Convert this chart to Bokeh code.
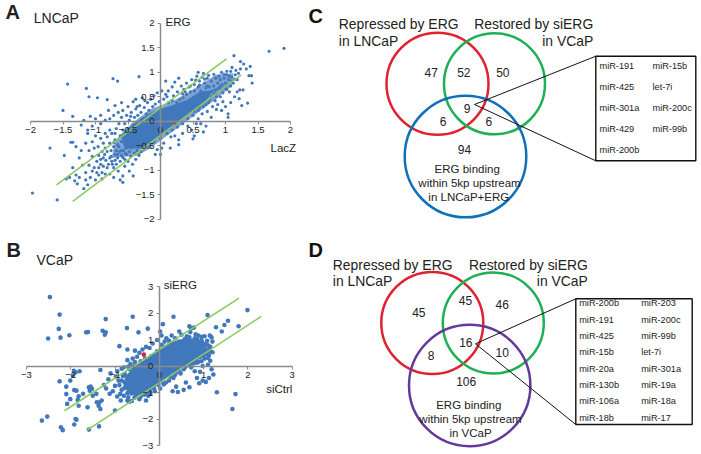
from bokeh.plotting import figure
from bokeh.layouts import row, column
from bokeh.models import LinearAxis, FixedTicker, Range1d
from bokeh.core.properties import value
from bokeh.embed import file_html
from bokeh.resources import INLINE

FONT = "Liberation Sans"
DOT = "#4178bc"
GREEN = "#8cc963"
TXT = "#222222"

# ---------- data ----------
a_ticks = [-2, -1.5, -1, -0.5, 0, 0.5, 1, 1.5, 2]
b_ticks = [-3, -2, -1, 0, 1, 2, 3]

a_lines_x = [[-1.60, 1.015], [-1.35, 1.24]]
a_lines_y = [[-1.30, 1.276], [-1.64, 0.948]]
b_lines_x = [[-2.14, 1.80], [-1.64, 2.30]]
b_lines_y = [[-1.69, 2.56], [-2.43, 1.87]]

a_core_x = [-0.55, -0.60, -0.35, -0.10, 0.15, 0.40, 0.62, 0.80, 0.66, 0.42, 0.28, 0.10, -0.10, -0.30]
a_core_y = [-0.55, -0.28, 0.00, 0.20, 0.30, 0.42, 0.60, 0.62, 0.35, 0.13, -0.02, -0.20, -0.38, -0.55]
a_band_x = [-0.75, -0.70, -0.45, -0.15, 0.20, 0.50, 0.85, 1.12, 1.10, 0.85, 0.60, 0.35, 0.10, -0.15, -0.35]
a_band_y = [-0.75, -0.40, -0.05, 0.25, 0.42, 0.65, 0.95, 0.98, 0.72, 0.45, 0.20, -0.05, -0.30, -0.55, -0.70]

b_core_x = [-0.76, -0.48, -0.12, 0.22, 0.58, 1.00, 1.10, 0.72, 0.42, 0.07, -0.28, -0.65, -0.80]
b_core_y = [-0.38, 0.05, 0.40, 0.78, 1.05, 0.95, 0.42, 0.12, -0.12, -0.55, -1.05, -1.10, -0.75]

a_points = [
 (-1.97,-1.47),(-1.59,-1.61),(-1.70,-0.55),(-1.50,0.22),(-1.35,0.10),(-1.43,0.76),(-1.14,0.67),(-1.10,0.50),(-0.97,0.48),(-0.82,0.44),
 (-0.73,0.87),(-0.66,0.82),(-0.33,0.91),(-1.48,-0.70),(-1.38,-0.43),(-1.35,-0.43),(1.67,1.43),(1.90,1.49),(1.13,1.34),(1.23,1.22),
 (1.28,1.17),(1.38,1.12),(1.32,1.07),(1.23,1.07),(1.36,0.93),(1.40,0.93),(1.41,0.78),(1.22,0.64),(1.27,0.64),(1.21,0.46),
 (1.25,0.32),(1.34,0.37),(1.04,0.15),(1.04,0.08),(-1.30,-0.52),(-1.25,-0.75),(-1.30,-1.10),(-1.40,-1.15),(-1.45,-1.18),(-1.32,-1.22),
 (-1.28,-1.28),(-1.25,-1.15),(-1.18,-1.38),(-1.15,-1.20),(-1.12,-1.30),(-1.15,-1.05),(-1.10,-0.90),(-1.20,-0.90),(-1.05,-1.02),(-1.00,-1.20),
 (-1.02,-0.95),(-0.98,-1.05),(-0.95,-1.10),(-0.92,-0.88),(-0.90,-1.05),(-0.88,-0.75),(-0.85,-1.08),(-0.82,-0.95),(-0.80,-0.88),(-0.78,-1.08),
 (-0.76,-0.72),(-0.75,-0.82),(-0.72,-0.95),(-0.70,-0.68),(-0.68,-0.88),(-0.66,-0.75),(-0.65,-1.02),(-0.63,-0.62),(-0.62,-0.82),(-0.60,-0.70),
 (-0.58,-1.12),(-0.57,-0.60),(-0.55,-0.78),(-0.55,-0.92),(-0.53,-0.55),(-0.52,-0.68),(-0.50,-0.82),(-0.48,-0.62),(-0.46,-0.72),(-0.45,-0.55),
 (-0.43,-0.88),(-0.40,-0.65),(-0.38,-0.78),(-0.36,-0.60),(-0.33,-0.70),(-0.30,-0.62),(-0.62,-1.20),(-0.58,-1.25),(-0.90,-0.62),(-0.95,-0.70),
 (-0.98,-0.82),(-1.05,-0.72),(-1.10,-0.60),(-1.15,-0.45),(-1.05,-0.42),(-1.00,-0.30),(-0.88,-0.45),(-0.85,-0.55),(-0.82,-0.32),(-0.78,-0.45),
 (-0.75,-0.25),(-0.72,-0.52),(-0.70,-0.38),(-0.68,-0.15),(-0.66,-0.48),(-0.62,-0.30),(-0.60,-0.42),(-0.58,-0.18),(-0.55,-0.05),(-0.52,0.12),
 (-0.50,-0.15),(-0.48,0.02),(-0.45,0.18),(-0.42,-0.08),(-0.40,0.08),(-0.38,0.25),(-0.35,0.12),(-0.32,0.32),(-0.30,0.18),(-0.28,0.05),
 (-0.25,0.28),(-0.22,0.15),(-0.20,0.38),(-0.18,0.22),(-0.15,0.45),(-0.12,0.30),(-0.10,0.52),(-0.08,0.35),(-0.05,0.58),(-0.02,0.40),
 (0.02,0.62),(0.05,0.45),(-0.42,0.40),(-0.50,0.30),(-0.58,0.22),(-0.65,0.18),(-0.72,0.12),(-0.78,0.05),(-0.85,0.02),(-0.92,-0.05),
 (-1.00,0.05),(-1.08,0.10),(-1.12,-0.18),(-1.05,-0.10),(-0.92,0.12),(-0.80,0.22),(-0.70,0.32),(-0.60,0.38),(-0.38,0.45),(-0.28,0.48),
 (-1.18,0.02),(-1.22,-0.08),(-1.12,-0.25),(0.08,0.55),(0.12,0.62),(0.18,0.70),(0.08,0.82),(0.22,0.80),(0.28,0.88),(0.20,0.52),
 (0.26,0.60),(0.32,0.72),(0.36,0.65),(0.40,0.78),(0.44,0.70),(0.48,0.85),(0.52,0.75),(0.56,0.92),(0.60,0.82),(0.58,1.00),
 (0.64,0.90),(0.68,0.78),(0.66,0.98),(0.72,0.88),(0.75,0.70),(0.78,0.82),(0.70,0.68),(0.82,0.72),(0.85,0.88),(0.88,0.78),
 (0.80,0.62),(0.90,0.68),(0.92,0.85),(0.95,0.75),(0.86,0.58),(0.98,0.88),(1.00,0.78),(1.02,0.95),(1.05,0.85),(1.08,1.02),
 (1.10,0.90),(1.12,0.78),(1.15,0.95),(1.08,0.72),(1.02,0.65),(1.18,0.85),(0.96,0.58),(0.92,0.50),(0.84,0.42),(0.78,0.50),
 (0.74,0.38),(0.68,0.45),(0.66,0.30),(0.62,0.40),(0.58,0.22),(0.54,0.32),(0.50,0.12),(0.46,0.22),(0.42,0.05),(0.38,0.12),
 (0.34,-0.05),(0.30,0.05),(0.26,-0.12),(0.22,-0.04),(0.18,-0.18),(0.14,-0.08),(0.10,-0.25),(0.05,-0.18),(0.00,-0.35),(-0.05,-0.28),
 (-0.10,-0.42),(-0.15,-0.36),(-0.18,-0.52),(-0.22,-0.45),(0.02,-0.55),(0.00,-0.68),(0.05,-0.45),(0.16,-0.32),(0.22,-0.30),(0.28,-0.48),
 (0.28,-0.38),(0.34,-0.25),(0.42,-0.10),(0.48,-0.18),(0.55,-0.05),(0.52,-0.30),(0.58,0.05),(0.62,-0.05),(0.50,-0.36),(0.64,0.15),
 (0.72,0.20),(0.78,0.08),(0.70,-0.10),(0.86,0.24),(0.94,0.22),(1.00,0.30),(1.08,0.38),(1.14,0.50),(1.18,0.60),(0.66,-0.22),
 (0.40,0.55),(0.46,0.60),(0.52,0.62),(0.58,0.70),(0.62,0.62),(0.70,0.58),(0.76,0.60),(0.35,0.48),(0.30,0.44),(0.25,0.38),
 (0.18,0.42),(0.12,0.38),(0.88,0.66),(1.00,0.70),(0.94,0.66),(0.82,0.56),(1.06,0.60),(0.96,0.40),(0.88,0.34),(0.80,0.30),
 (-1.22,-0.60),(-1.35,-0.95),(-1.08,-1.15),(-0.90,-1.18),(-0.72,-1.15),(-0.48,-1.02),(-0.42,-1.12),(0.15,-0.55),(-0.08,-0.68),(-0.05,-0.58),
 (-0.95,-0.95),(-0.88,-0.92),(-0.84,-0.80),(-0.78,-0.75),(-0.74,-0.88),(-0.70,-0.80),(-0.66,-0.68),(-0.60,-0.60),(-0.58,-0.74),(-0.54,-0.66),
 (-0.92,-0.78),(-0.86,-0.68),(-0.82,-0.62),(-0.76,-0.60),(-0.72,-0.44),(-0.68,-0.60),(-0.64,-0.52),(-0.70,-0.25),(-0.78,-0.18),(-0.85,-0.25),
 (-0.92,-0.35),(-0.96,-0.52),(-1.02,-0.55),(-0.64,-0.05),(-0.60,0.08),(-0.54,-0.22),(-0.46,0.10),(-0.36,0.30),(-0.24,0.42),(0.10,0.50),
 (0.55,0.48),(0.66,0.52),(0.72,0.72),(0.84,0.64),(0.92,0.72),(0.98,0.68),(1.04,0.74),(1.10,0.82),(1.14,0.86),(0.90,0.92),
 (0.82,0.96),(0.74,0.94),(0.68,0.86),(0.60,0.74),(0.54,0.84),(0.46,0.72),(0.38,0.60),(0.34,0.56),(1.20,0.98),(1.16,1.04),
 (1.06,0.92),(0.98,0.96),(0.94,1.00),(1.02,1.02),(1.10,1.10),(0.86,0.50),(0.76,0.44),(0.70,0.34),(0.60,0.28),(0.52,0.20),
]

b_points = [
 (-2.47,2.60),(-2.25,1.94),(-2.27,1.40),(-2.51,1.04),(-2.23,1.07),(-2.03,1.16),(-1.65,1.27),(-1.61,1.28),(-1.21,1.77),(-1.28,1.33),
 (-1.21,1.27),(-1.23,1.18),(-0.60,1.86),(-0.73,1.43),(-0.26,1.41),(-0.47,1.27),(0.08,1.58),(0.32,1.86),(1.09,1.92),(1.99,2.11),
 (1.55,1.71),(1.47,1.55),(1.79,1.50),(1.28,1.46),(1.41,1.30),(1.65,-1.62),(1.72,-1.06),(1.30,-0.99),(-2.65,-2.06),(-2.53,-1.91),
 (-2.22,-2.31),(-2.18,-2.42),(-1.92,-2.21),(-1.89,-2.00),(-1.87,-2.03),(-1.59,-2.40),(-1.36,-2.28),(-2.25,-0.58),(-2.01,-0.55),(-2.10,-0.78),
 (-1.93,-0.18),(-1.89,-0.24),(-1.80,-0.20),(-1.95,-0.36),(-1.92,-0.91),(-1.87,-0.93),(-2.10,-1.06),(-2.01,-1.25),(-2.08,-1.43),(-1.82,-1.14),
 (-1.84,-1.28),(-1.82,-1.50),(-1.59,-0.80),(-1.55,-0.78),(-1.52,-0.86),(-1.57,-0.93),(-1.62,-1.56),(-1.41,-1.37),(-1.37,-1.50),(-1.33,-1.62),
 (-1.35,-1.37),(-1.72,-1.05),(-1.30,-1.30),(-1.25,-0.72),(-1.10,-0.28),(-1.33,-0.15),(-1.00,-0.75),(-1.05,-0.95),(-1.12,-1.05),(-0.95,-1.15),
 (-1.00,-1.68),(-0.87,-1.30),(-0.72,-1.30),(-0.68,-1.35),(-0.62,-1.32),(-0.85,-0.90),(-0.92,-0.55),(-0.98,-0.40),(-0.95,-0.20),(-1.15,-0.50),
 (-0.85,-0.10),(-0.80,-0.05),(-0.70,-0.02),(-0.60,-0.05),(-0.65,0.08),(-0.55,0.15),(-0.60,0.28),(-0.72,0.22),(-0.50,0.35),(-0.45,0.50),
 (-0.38,0.62),(-0.30,0.72),(-0.22,0.68),(-0.15,0.85),(-0.05,0.98),(0.05,1.15),(0.02,1.30),(0.05,0.80),(0.12,0.92),(0.16,1.05),
 (0.22,0.95),(0.28,1.15),(0.36,1.05),(0.45,1.30),(0.50,1.18),(0.58,1.02),(0.62,1.12),(0.68,1.50),(0.72,1.42),(0.78,1.45),
 (0.70,1.28),(0.82,1.20),(0.88,1.15),(0.95,1.10),(1.02,1.12),(1.08,0.95),(1.14,1.15),(1.18,1.08),(1.20,0.92),(1.15,0.72),
 (1.20,0.52),(1.12,0.40),(1.15,0.20),(1.10,0.05),(1.18,-0.12),(1.22,-0.32),(1.12,-0.45),(1.05,-0.60),(0.98,-0.55),(0.90,-0.65),
 (0.85,-0.45),(0.92,-0.22),(0.98,0.00),(0.80,-0.20),(0.72,-0.05),(0.62,0.02),(0.55,-0.12),(0.48,-0.28),(0.38,-0.25),(0.32,-0.45),
 (0.25,-0.40),(0.15,-0.62),(0.05,-0.58),(0.02,-0.85),(-0.02,-0.72),(-0.12,-0.85),(-0.20,-1.02),(-0.25,-1.12),(0.30,-0.95),(0.38,-0.78),
 (0.42,-0.98),(0.60,-0.62),(0.55,-0.90),(0.68,-0.80),(1.02,0.28),(0.78,0.10),(0.88,0.15),(-0.30,-1.30),(-0.42,-1.15),(-0.52,-1.08),
 (-0.60,-1.02),(-0.72,-1.02),(-0.80,-0.85),(-0.78,-0.62),(-0.82,-0.38),(-0.62,-0.22),(-0.50,-0.10),(-0.38,0.02),(-0.28,0.15),(-0.20,0.30),
 (-0.12,0.42),(-0.05,0.55),(0.05,0.62),(0.12,0.72),(0.22,0.80),(0.30,0.85),(-0.15,-0.78),(-0.05,-0.62),(0.08,-0.48),(0.18,-0.30),
 (0.28,-0.18),(0.38,-0.08),(0.50,0.05),(0.62,0.18),(0.75,0.22),(0.88,0.35),(1.08,0.62),(1.05,0.82),(0.85,1.02),(0.55,0.95),
 (-0.88,-1.05),(-0.80,-1.12),(-0.70,-1.18),(-0.56,-1.20),(-0.45,-1.25),(-0.34,-1.08),(-0.25,-0.98),(-0.10,-0.95),(0.10,-0.70),(0.22,-0.55),
 (0.35,-0.35),(0.45,-0.18),(0.58,-0.05),(0.70,0.05),(0.85,0.12),(0.95,0.18),(1.10,0.30),(1.14,0.55),(1.10,0.78),(0.95,0.98),
 (0.80,1.05),(0.68,1.08),(0.45,0.92),(0.38,0.88),(0.15,0.65),(0.00,0.48),(-0.18,0.38),(-0.32,0.28),(-0.42,0.18),(-0.55,0.02),
 (-0.68,-0.12),(-0.78,-0.30),(-0.85,-0.55),(-0.90,-0.72),(-1.20,-0.85),(-1.42,-1.05),(-1.50,-1.12),(-0.55,0.58),(-0.72,0.62),(-0.90,0.75),
]

c_counts = ["47", "52", "50", "9", "6", "6", "94"]
c_titles = ["ERG binding", "within 5kp upstream", "in LNCaP+ERG"]
c_mir_1 = ["miR-191", "miR-425", "miR-301a", "miR-429", "miR-200b"]
c_mir_2 = ["miR-15b", "let-7i", "miR-200c", "miR-99b"]

d_counts = ["45", "45", "46", "16", "8", "10", "106"]
d_titles = ["ERG binding", "within 5kp upstream", "in VCaP"]
d_mir_1 = ["miR-200b", "miR-191", "miR-425", "miR-15b", "miR-20a", "miR-130b", "miR-106a", "miR-18b"]
d_mir_2 = ["miR-203", "miR-200c", "miR-99b", "let-7i", "miR-301a", "miR-19a", "miR-18a", "miR-17"]


# ---------- helpers ----------
def base(w, h, xr, yr):
    f = figure(width=w, height=h, x_range=Range1d(*xr), y_range=Range1d(*yr),
               output_backend="svg", toolbar_location=None,
               x_axis_location=None, y_axis_location=None,
               min_border=0, outline_line_color=None, background_fill_color="white")
    f.grid.visible = False
    return f


def put(f, x, y, s, size, align="left", weight="normal", color=TXT):
    f.text(x=[x], y=[y], text=[s], text_font=value(FONT), text_font_size=f"{size}px",
           text_align=align, text_baseline="alphabetic", text_font_style=weight, text_color=color,
           y_offset=-0.42 * size)


def scatter_panel(w, h, cx, sx, top, cy, sy, ticks, core_x, core_y, points, lx, ly, size, bound, labels):
    fx = lambda px: (px - cx) / sx
    fy = lambda py: (cy - py) / sy
    f = base(w, h, (fx(0), fx(w)), (fy(top + h), fy(top)))
    f.patch(core_x, core_y, fill_color=DOT, line_color=DOT, line_width=1)
    f.scatter([p[0] for p in points], [p[1] for p in points], marker="circle",
              size=size, fill_color=DOT, line_color=None)
    f.multi_line(lx, ly, line_color=GREEN, line_width=1.6)
    for side in ("below", "left"):
        ax = LinearAxis(ticker=FixedTicker(ticks=ticks), fixed_location=0, bounds=bound,
                        axis_line_color="#8a8a8a", axis_line_width=1.5,
                        major_tick_line_color="#8a8a8a", major_tick_line_width=1,
                        major_tick_in=0, major_tick_out=3, minor_tick_line_color=None,
                        major_label_text_font=FONT, major_label_text_font_size="9.5px",
                        major_label_text_color=TXT, major_label_standoff=3)
        f.add_layout(ax, side)
    for (px, py, s, fs, wt) in labels:
        put(f, fx(px), fy(py), s, fs, weight=wt)
    return f


def venn_panel(h, top, circles, titles_rows, count_rows, mir_rows, box, apex, letter):
    f = base(398, h, (303, 701), (top + h, top))
    for (x, y, r, col) in circles:
        f.circle(x=[x], y=[y], radius=r, fill_color=None, line_color=col, line_width=2.5)
    bx0, by0, bx1, by1 = box
    f.multi_line([[apex[0], bx0], [apex[0], bx0]], [[apex[1], by0], [apex[1], by1]],
                 line_color="#111111", line_width=1)
    f.quad(left=[bx0], right=[bx1], top=[by0], bottom=[by1], fill_color="white",
           line_color="#111111", line_width=1.4)
    for (x, y, s, fs, al) in titles_rows:
        put(f, x, y, s, fs, align=al)
    for (x, y, s) in count_rows:
        put(f, x, y, s, 12, align="center")
    for (x, y, s) in mir_rows:
        put(f, x, y, s, 9.2)
    put(f, letter[0], letter[1], letter[2], 20, weight="bold", color="#111111")
    return f


# ---------- panels ----------
pa = scatter_panel(303, 230, 160, 65, 0, 120.7, 48.9, a_ticks, a_core_x, a_core_y, a_points,
                   a_lines_x, a_lines_y, 3.2, (-2, 2),
                   [(5, 20, "A", 20, "bold"), (33.3, 23.3, "LNCaP", 14, "normal"),
                    (165, 26, "ERG", 11.5, "normal"), (270, 152.7, "LacZ", 11.5, "normal")])
pa.patch(a_band_x, a_band_y, fill_color=DOT, fill_alpha=0.68, line_color=None, level="underlay")
pb = scatter_panel(303, 224, 158.8, 44.3, 230, 365.5, 26.5, b_ticks, b_core_x, b_core_y, b_points,
                   b_lines_x, b_lines_y, 4.6, (-3, 3),
                   [(6, 258, "B", 20, "bold"), (36, 265, "VCaP", 14, "normal"),
                    (163.3, 289, "siERG", 11.5, "normal"), (265.7, 393.3, "siCtrl", 11.5, "normal")])
pb.scatter([-0.35], [0.43], marker="circle", size=4.6, fill_color="#d2243c", line_color=None)
pa.scatter([0.22], [-0.04], marker="circle", size=3.2, fill_color="#a8506a", line_color=None)

HEAD = 13.9
c_heads = [(338.3, 29.3, "Repressed by ERG", HEAD, "left"), (338.3, 46, "in LNCaP", HEAD, "left"),
           (592.7, 29.3, "Restored by siERG", HEAD, "right"), (592.7, 46, "in VCaP", HEAD, "right"),
           (466.7, 173.3, c_titles[0], 11.5, "center"), (469, 187.7, c_titles[1], 11.5, "center"),
           (468.3, 201.7, c_titles[2], 11.5, "center")]
c_pos = [(430.7, 77), (463.3, 77), (502.3, 77), (466.7, 112.7), (442.7, 126), (488.3, 126), (464, 154.3)]
c_y = [69.3, 90, 111.7, 132.3, 153.3]
c_mirs = [(599, c_y[i], s) for i, s in enumerate(c_mir_1)] + [(652, c_y[i], s) for i, s in enumerate(c_mir_2)]
pc = venn_panel(230, 0,
                [(437, 83.3, 51, "#e0222f"), (494, 83.3, 50.5, "#1faf54"), (465, 156, 60.8, "#1071b8")],
                c_heads, [(x, y, s) for (x, y), s in zip(c_pos, c_counts)], c_mirs,
                (595.3, 55.7, 695.3, 160.3), (474, 104), (308, 24, "C"))

d_heads = [(332.3, 270, "Repressed by ERG", HEAD, "left"), (332.3, 286.7, "in LNCaP", HEAD, "left"),
           (587.3, 270, "Restored by siERG", HEAD, "right"), (587.3, 286.7, "in VCaP", HEAD, "right"),
           (468.3, 409.3, d_titles[0], 11.5, "center"), (470, 423.3, d_titles[1], 11.5, "center"),
           (470, 437.3, d_titles[2], 11.5, "center")]
d_pos = [(418.3, 317.3), (465, 305.3), (501.7, 309.3), (465.3, 346.7), (430.7, 360), (501.7, 356.7), (465.7, 385.7)]
d_y = [306.7, 323.3, 339.3, 355.7, 372, 388.7, 404.7, 421]
d_mirs = [(578.7, d_y[i], s) for i, s in enumerate(d_mir_1)] + [(640.7, d_y[i], s) for i, s in enumerate(d_mir_2)]
pd_ = venn_panel(224, 230,
                 [(431.8, 322.5, 51, "#e0222f"), (492.8, 322.5, 50.5, "#1faf54"), (469.2, 385, 60.7, "#65399b")],
                 d_heads, [(x, y, s) for (x, y), s in zip(d_pos, d_counts)], d_mirs,
                 (575.3, 298.3, 691.7, 424), (475, 343.3), (308, 258.3, "D"))

page = row(column(pa, pb, spacing=0), column(pc, pd_, spacing=0), spacing=0)
open("out.html", "w").write(file_html(page, INLINE))
